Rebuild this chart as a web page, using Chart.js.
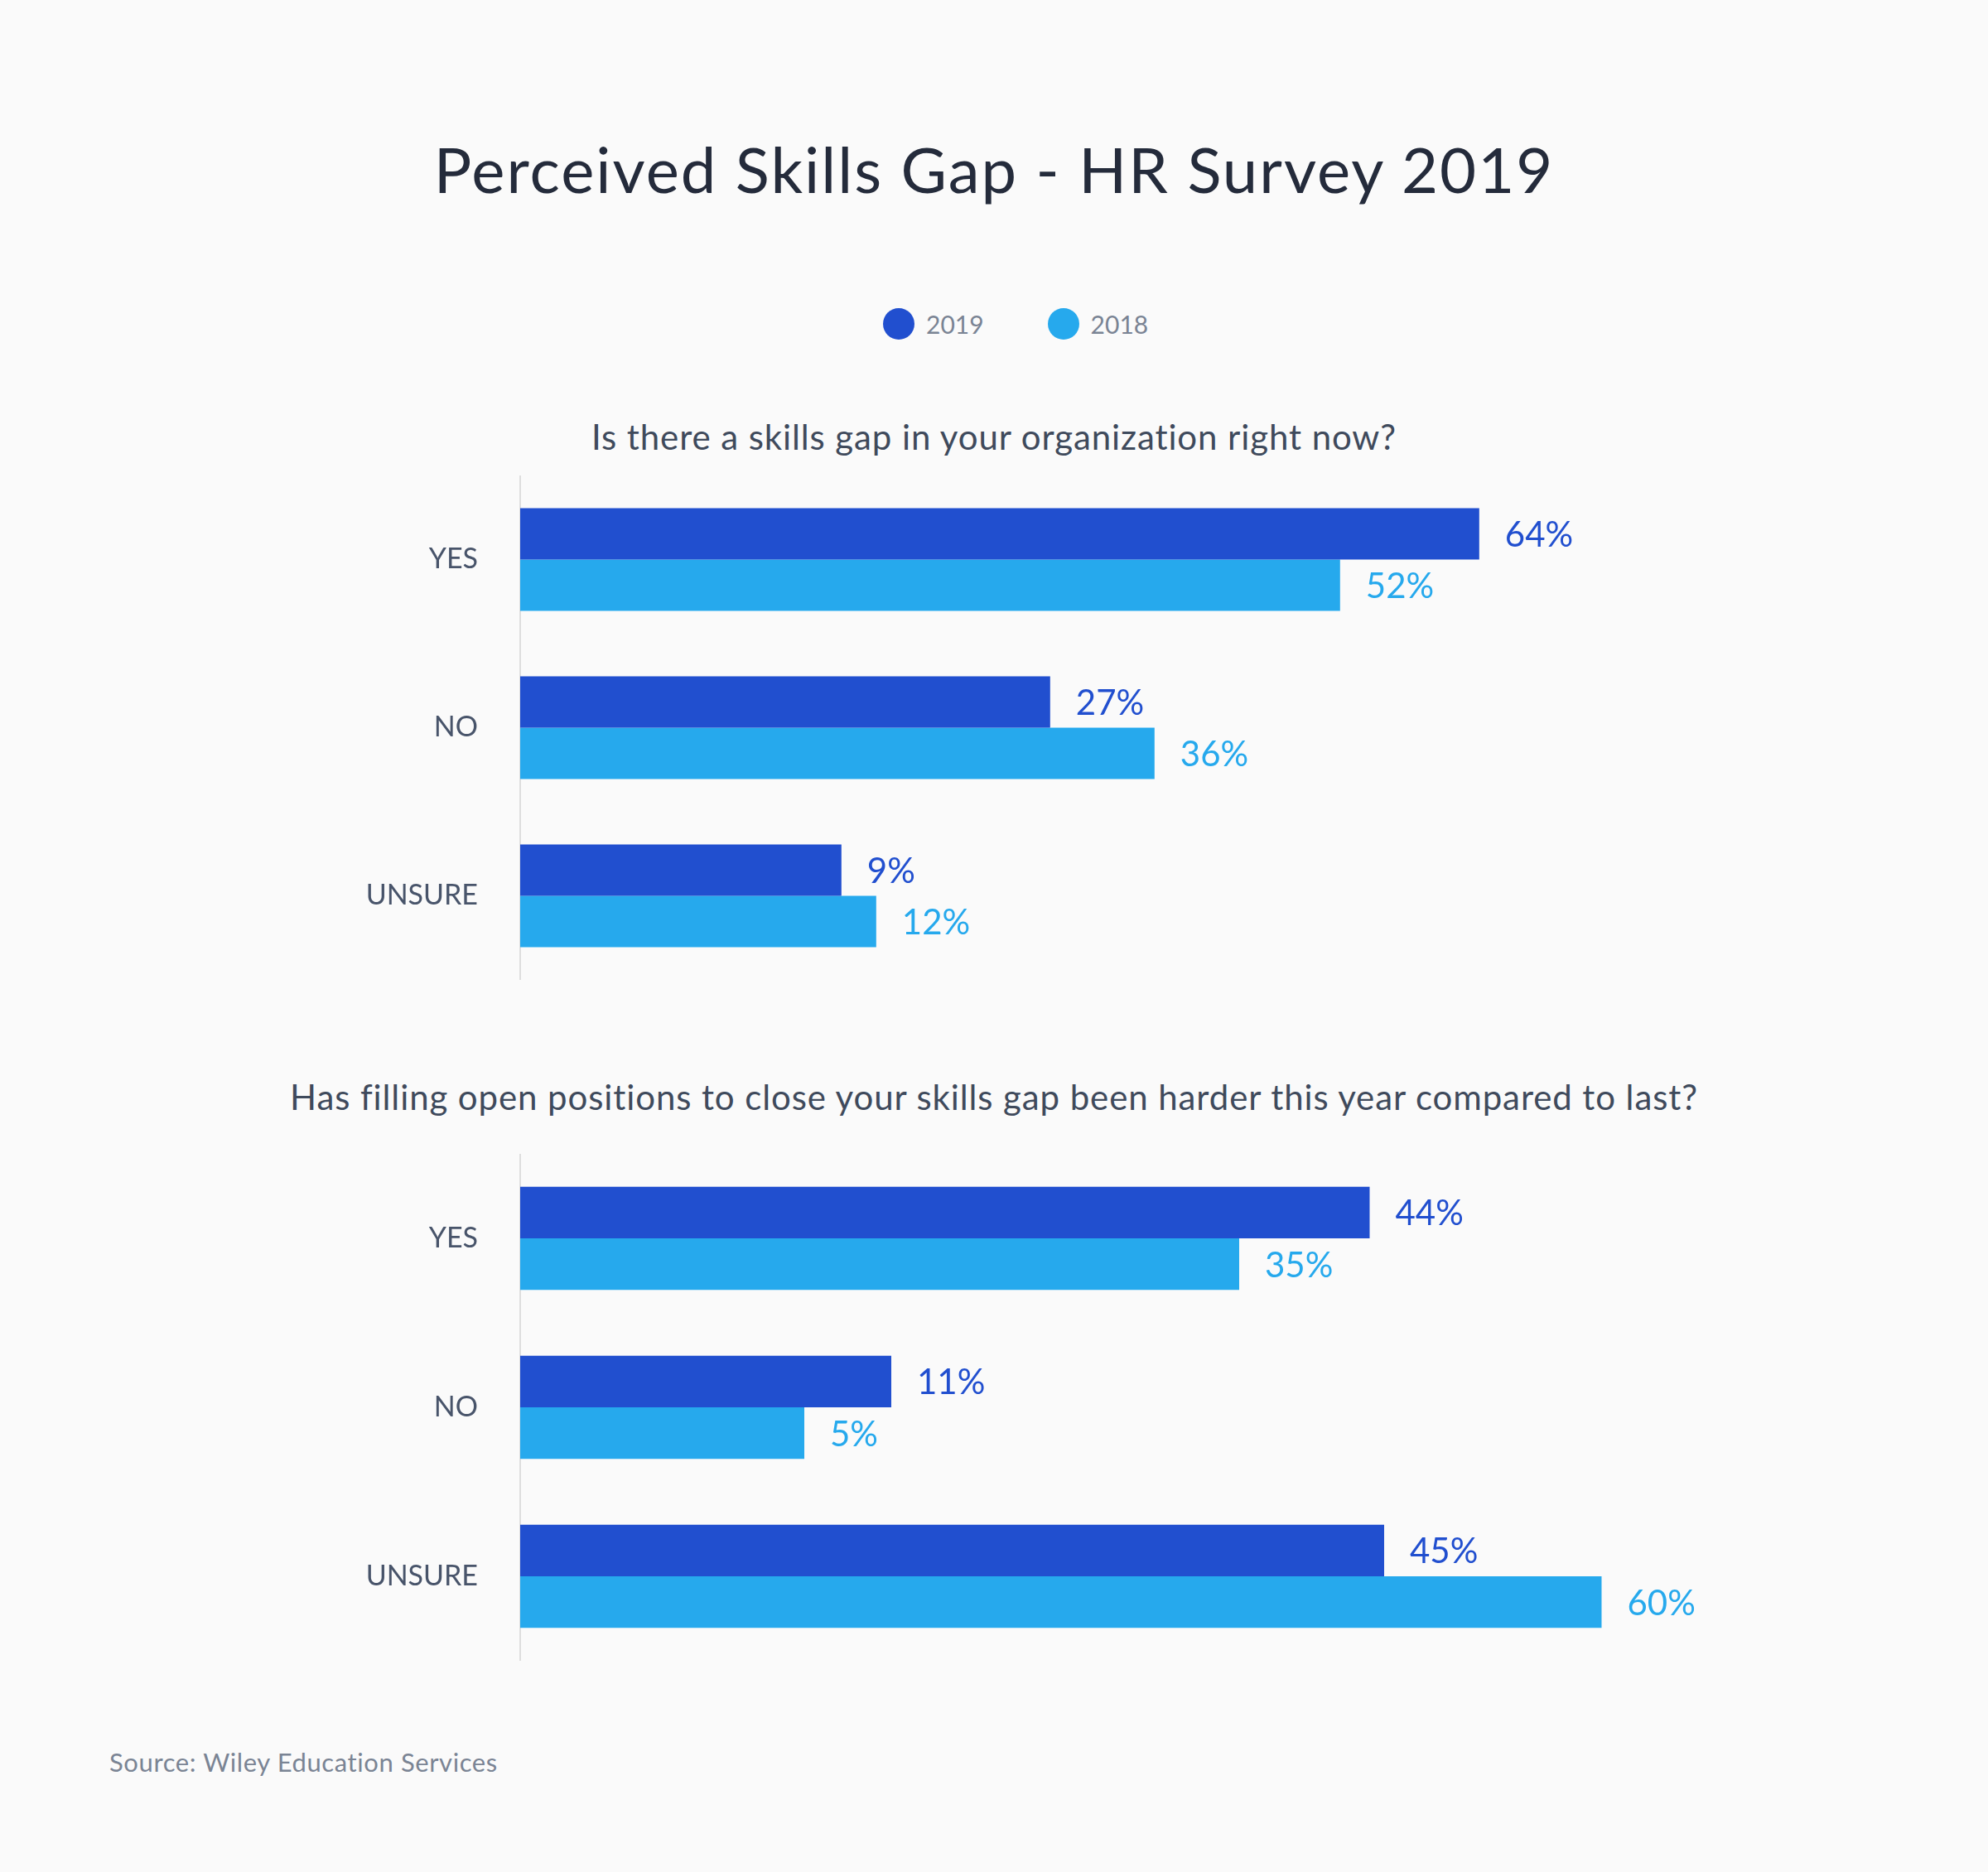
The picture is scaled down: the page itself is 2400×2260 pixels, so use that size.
<!DOCTYPE html>
<html>
<head>
<meta charset="utf-8">
<script src="https://cdn.jsdelivr.net/npm/chart.js@4/dist/chart.umd.min.js"></script>
<style>
    html, body { margin: 0; padding: 0; background: #fafafa; }
    body { width: 2400px; height: 2260px; position: relative; font-family: Lato, "Open Sans", sans-serif; overflow: hidden; }
    .txt { position: absolute; white-space: nowrap; line-height: 1; }
    #title { left: 0; width: 2400px; text-align: center; top: 166px; font-size: 76px; letter-spacing: 2px; color: #242b3b; }
    .subtitle { left: 0; width: 2400px; text-align: center; font-size: 42px; letter-spacing: 0.9px; color: #3f4a5c; }
    #sub1 { top: 506px; }
    #sub2 { top: 1303px; }
    #legend { position: absolute; top: 372px; left: 1066px; display: flex; align-items: center; font-size: 30px; color: #7a8494; }
    .legend-item { display: flex; align-items: center; margin-right: 77px; }
    .dot { width: 38px; height: 38px; border-radius: 50%; margin-right: 14px; }
    #source { left: 132px; top: 2112px; font-size: 31px; letter-spacing: 0.6px; color: #7a8494; }
    .chart-box { position: absolute; left: 0; width: 2200px; }
    #box1 { top: 574px; height: 609px; }
    #box2 { top: 1393px; height: 612px; }
</style>
</head>
<body>
    <div id="title" class="txt">Perceived Skills Gap - HR Survey 2019</div>
    <div id="legend"></div>
    <div id="sub1" class="txt subtitle">Is there a skills gap in your organization right now?</div>
    <div class="chart-box" id="box1"><canvas id="chart1"></canvas></div>
    <div id="sub2" class="txt subtitle">Has filling open positions to close your skills gap been harder this year compared to last?</div>
    <div class="chart-box" id="box2"><canvas id="chart2"></canvas></div>
    <div id="source" class="txt">Source: Wiley Education Services</div>

<script>
const categories = ['YES', 'NO', 'UNSURE'];
const seriesNames = ['2019', '2018'];
const seriesColors = ['#214fcf', '#26a9ed'];

// Is there a skills gap in your organization right now?
const gapNow2019 = [64, 27, 9];
const gapNow2018 = [52, 36, 12];

// Has filling open positions been harder this year compared to last?
const harder2019 = [44, 11, 45];
const harder2018 = [35, 5, 60];

// draw "NN%" just right of each bar
const valueLabels = {
    id: 'valueLabels',
    afterDatasetsDraw(chart) {
        const ctx = chart.ctx;
        ctx.save();
        ctx.font = '42px Lato, "Open Sans", sans-serif';
        ctx.textBaseline = 'middle';
        ctx.textAlign = 'left';
        chart.data.datasets.forEach((ds, i) => {
            ctx.fillStyle = ds.backgroundColor;
            chart.getDatasetMeta(i).data.forEach((bar, j) => {
                ctx.fillText(ds.data[j] + '%', bar.x + 31, bar.y + 2);
            });
        });
        ctx.restore();
    }
};

function buildChart(canvasId, v2019, v2018, min, max) {
    const ctx = document.getElementById(canvasId).getContext('2d');
    return new Chart(ctx, {
        type: 'bar',
        data: {
            labels: categories,
            datasets: [
                { label: seriesNames[0], data: v2019, backgroundColor: seriesColors[0], base: min },
                { label: seriesNames[1], data: v2018, backgroundColor: seriesColors[1], base: min }
            ]
        },
        options: {
            indexAxis: 'y',
            responsive: true,
            maintainAspectRatio: false,
            animation: false,
            categoryPercentage: 0.61,
            barPercentage: 1,
            layout: { padding: { top: 0, bottom: 0, left: 0, right: 200 } },
            scales: {
                x: { display: false, min: min, max: max },
                y: {
                    grid: { display: false, drawTicks: false },
                    border: { display: true, color: '#dedede', width: 2 },
                    ticks: {
                        padding: 51,
                        color: '#48546a',
                        font: { family: 'Lato', size: 34 }
                    },
                    afterFit: (scale) => {
                        scale.width = 628;
                        // no extra room above/below the bars
                        scale.paddingTop = 0;
                        scale.paddingBottom = 0;
                    }
                }
            },
            plugins: {
                legend: { display: false },
                tooltip: { enabled: false }
            }
        },
        plugins: [valueLabels]
    });
}

function buildLegend() {
    const legend = document.getElementById('legend');
    legend.innerHTML = seriesNames.map((name, i) => `
        <div class="legend-item">
            <span class="dot" style="background:${seriesColors[i]}"></span>
            <span>${name}</span>
        </div>
    `).join('');
}

buildLegend();
buildChart('chart1', gapNow2019, gapNow2018, -18.7, 79.3);
buildChart('chart2', harder2019, harder2018, -14.6, 63.8);
</script>
</body>
</html>
